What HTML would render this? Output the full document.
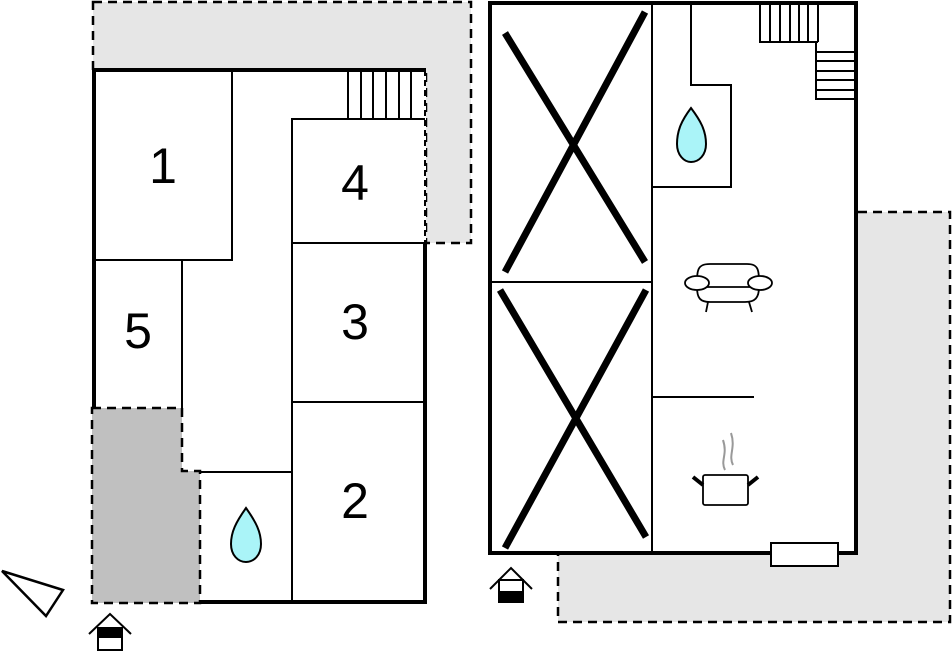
<!DOCTYPE html>
<html><head><style>html,body{margin:0;padding:0;background:#fff}svg{display:block}</style></head>
<body>
<svg width="952" height="652" viewBox="0 0 952 652" xmlns="http://www.w3.org/2000/svg" font-family="Liberation Sans, sans-serif">
<!-- gray terraces -->
<path d="M93,2 H471 V243 H426 V70 H93 Z" fill="#e6e6e6" stroke="#000" stroke-width="2.5" stroke-dasharray="9,6"/>
<rect x="558" y="212" width="392" height="410" fill="#e6e6e6" stroke="#000" stroke-width="2.5" stroke-dasharray="9,6"/>
<!-- left building -->
<rect x="93" y="70" width="333" height="532" fill="#fff"/>
<path d="M92,408 H182 V471 H200 V603 H92 Z" fill="#c0c0c0" stroke="#000" stroke-width="2.5" stroke-dasharray="9,6"/>
<path d="M94,408 V70 H426" fill="none" stroke="#000" stroke-width="4"/>
<path d="M425,243 V602 H200" fill="none" stroke="#000" stroke-width="4"/>
<g fill="none" stroke="#000" stroke-width="2">
<path d="M232,70 V260 H94"/>
<path d="M182,260 V408"/>
<path d="M292,602 V119 H425"/>
<path d="M292,243 H425 M292,402 H425"/>
<path d="M200,472 H292"/>
<path d="M348,70 V119 M361,70 V119 M373,70 V119 M386,70 V119 M399,70 V119 M411,70 V119"/>
<path d="M425,70 V243" stroke-dasharray="6,4"/>
</g>
<g font-size="50" text-anchor="middle">
<text x="163" y="183">1</text>
<text x="355" y="200">4</text>
<text x="355" y="339">3</text>
<text x="355" y="518">2</text>
<text x="138" y="348">5</text>
</g>
<path d="M246,508 C236,522 231,532 231,544 C231,555 238,562 246,562 C254,562 261,555 261,544 C261,532 256,522 246,508 Z" fill="#aaf4f8" stroke="#000" stroke-width="2"/>
<polygon points="2,571 63,590 46,616" fill="#fff" stroke="#000" stroke-width="2.5"/>
<!-- entry icons -->
<g stroke="#000" stroke-width="2" fill="none">
<path d="M89,634 L110,614 L131,634"/>
<rect x="98" y="628" width="24" height="22" fill="#fff"/>
<rect x="98" y="628" width="24" height="9" fill="#000"/>
<path d="M490,589 L511,568 L532,589"/>
<rect x="499" y="580" width="24" height="22" fill="#fff"/>
<rect x="499" y="592" width="24" height="10" fill="#000"/>
</g>
<!-- right building -->
<rect x="490" y="3" width="366" height="550" fill="#fff" stroke="#000" stroke-width="4"/>
<g fill="none" stroke="#000" stroke-width="2">
<path d="M652,3 V553"/>
<path d="M490,282 H652"/>
<path d="M691,3 V85 H731 V187 H652"/>
<path d="M652,397 H754"/>
<path d="M760,3 V42 H818 M770,3 V42 M780,3 V42 M790,3 V42 M799,3 V42 M808,3 V42 M818,3 V42"/>
<path d="M816,42 V99 H855 M816,52 H855 M816,61 H855 M816,71 H855 M816,80 H855 M816,90 H855"/>
<rect x="771" y="543" width="67" height="23" fill="#fff"/>
</g>
<g stroke="#000" stroke-width="7">
<path d="M505,33 L645,262 M505,272 L645,12"/>
<path d="M500,290 L646,537 M505,548 L646,290"/>
</g>
<path d="M691,108 C682,120 677,130 677,144 C677,155 684,162 691,162 C699,162 706,155 706,144 C706,130 700,120 691,108 Z" fill="#aaf4f8" stroke="#000" stroke-width="2"/>
<!-- sofa -->
<g fill="#fff" stroke="#000" stroke-width="1.8">
<path d="M697,287 C697,270 697,264 710,264 H747 C759,264 759,270 759,287 C759,298 755,302 745,302 H710 C700,302 697,298 697,287 Z"/>
<path d="M704,287 H753"/>
<ellipse cx="697" cy="283" rx="12" ry="7"/>
<ellipse cx="760" cy="283" rx="12" ry="7"/>
<path d="M708,302 L706,312 M749,302 L752,312"/>
</g>
<!-- pot -->
<g fill="none" stroke="#000" stroke-width="1.8">
<rect x="703" y="475" width="45" height="30" rx="2" fill="#fff"/>
<path d="M703,485 L693,477 M748,485 L758,477" stroke-width="4"/>
</g>
<path d="M725,470 C720,460 728,455 723,440 M733,465 C728,455 736,448 731,433" fill="none" stroke="#999" stroke-width="2"/>
</svg>
</body></html>
